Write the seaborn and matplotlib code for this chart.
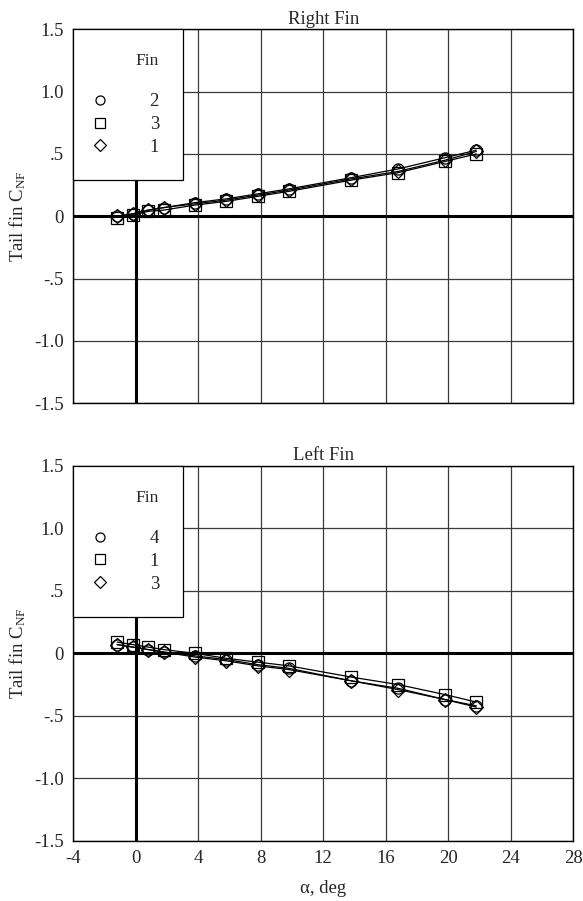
import matplotlib
matplotlib.use("Agg")
import matplotlib.pyplot as plt
from matplotlib.lines import Line2D
import seaborn as sns
import pandas as pd

# Angle of attack, deg
alpha = [-1.2, -0.2, 0.8, 1.8, 3.8, 5.8, 7.8, 9.8, 13.8, 16.8, 19.8, 21.8]

# Right fin normal-force coefficients
right_fin_labels = ["2", "3", "1"]
right_fin2 = [0.00, 0.02, 0.05, 0.07, 0.11, 0.14, 0.18, 0.22, 0.31, 0.38, 0.47, 0.53]
right_fin3 = [-0.01, 0.01, 0.04, 0.05, 0.09, 0.12, 0.16, 0.20, 0.29, 0.35, 0.44, 0.50]
right_fin1 = [0.00, 0.02, 0.05, 0.07, 0.10, 0.13, 0.17, 0.21, 0.30, 0.36, 0.45, 0.52]

# Left fin normal-force coefficients
left_fin_labels = ["4", "1", "3"]
left_fin4 = [0.07, 0.05, 0.03, 0.01, -0.02, -0.05, -0.09, -0.12, -0.22, -0.28, -0.37, -0.42]
left_fin1 = [0.09, 0.07, 0.05, 0.03, 0.00, -0.04, -0.07, -0.10, -0.19, -0.25, -0.33, -0.39]
left_fin3 = [0.07, 0.05, 0.03, 0.01, -0.03, -0.06, -0.10, -0.13, -0.22, -0.29, -0.37, -0.43]

x_ticks = [-4, 0, 4, 8, 12, 16, 20, 24, 28]
y_ticks = [-1.5, -1.0, -0.5, 0, 0.5, 1.0, 1.5]
y_tick_labels = ["-1.5", "-1.0", "-.5", "0", ".5", "1.0", "1.5"]
marker_cycle = ["o", "s", "D"]

sns.set_theme(style="white")
plt.rcParams["font.family"] = ["Liberation Serif", "DejaVu Serif"]
plt.rcParams["mathtext.fontset"] = "custom"
plt.rcParams["mathtext.rm"] = "Liberation Serif"
plt.rcParams["mathtext.it"] = "Liberation Serif:italic"

FS = 13.5
FS_PX = FS * 100 / 72

fig = plt.figure(figsize=(5.83, 9.01), dpi=100)
ax_top = fig.add_axes([0.126, 0.5524, 0.857, 0.4151])
ax_bot = fig.add_axes([0.126, 0.0669, 0.857, 0.4159])


def draw_panel(ax, title, labels, series):
    df = pd.DataFrame({"alpha": alpha * len(series),
                       "cnf": [v for s in series for v in s],
                       "fin": [lab for lab, s in zip(labels, series) for _ in s]})
    for lab, mk in zip(labels, marker_cycle):
        sub = df[df["fin"] == lab]
        sns.lineplot(data=sub, x="alpha", y="cnf", ax=ax, color="black",
                     lw=0.9, marker=mk, ms=8 if mk != "D" else 7.5,
                     mfc="none", mec="black", mew=0.9, legend=False, zorder=3)
    ax.set_xlim(-4, 28)
    ax.set_ylim(-1.5, 1.5)
    ax.set_xticks(x_ticks)
    ax.set_yticks(y_ticks)
    ax.set_yticklabels(y_tick_labels, fontsize=FS)
    ax.grid(True, color="#3a3a3a", lw=0.9)
    ax.axhline(0, color="black", lw=2.2, zorder=2)
    ax.axvline(0, color="black", lw=2.2, zorder=2)
    for sp in ax.spines.values():
        sp.set_color("black")
        sp.set_linewidth(1.0)
    ax.tick_params(length=0, pad=7, labelsize=FS)
    ax.set_title(title, fontsize=FS, pad=4)
    ax.set_ylabel(r"Tail fin C$_{\mathrm{NF}}$", fontsize=FS, labelpad=4)
    handles = [Line2D([], [], ls="none", marker=mk, ms=6.5 if mk != "D" else 6,
                      mfc="none", mec="black", mew=0.9)
               for mk in marker_cycle]
    leg = ax.legend(handles, labels, title="Fin\n", loc="upper left",
                    bbox_to_anchor=(0, 1), borderaxespad=0, fontsize=FS,
                    title_fontsize=FS - 1, frameon=True, fancybox=False,
                    framealpha=1, edgecolor="black", borderpad=24 / FS_PX,
                    labelspacing=0.3, handlelength=0.28, handletextpad=2.5,
                    alignment="right")
    leg.get_frame().set_linewidth(0.9)
    leg.set_zorder(5)


draw_panel(ax_top, "Right Fin", right_fin_labels, [right_fin2, right_fin3, right_fin1])
draw_panel(ax_bot, "Left Fin", left_fin_labels, [left_fin4, left_fin1, left_fin3])

ax_top.set_xlabel("")
ax_top.set_xticklabels([])
ax_bot.set_xticklabels([str(t) for t in x_ticks], fontsize=FS)
ax_bot.set_xlabel("α, deg", fontsize=FS, labelpad=9)

fig.savefig("out.png", dpi=100)
